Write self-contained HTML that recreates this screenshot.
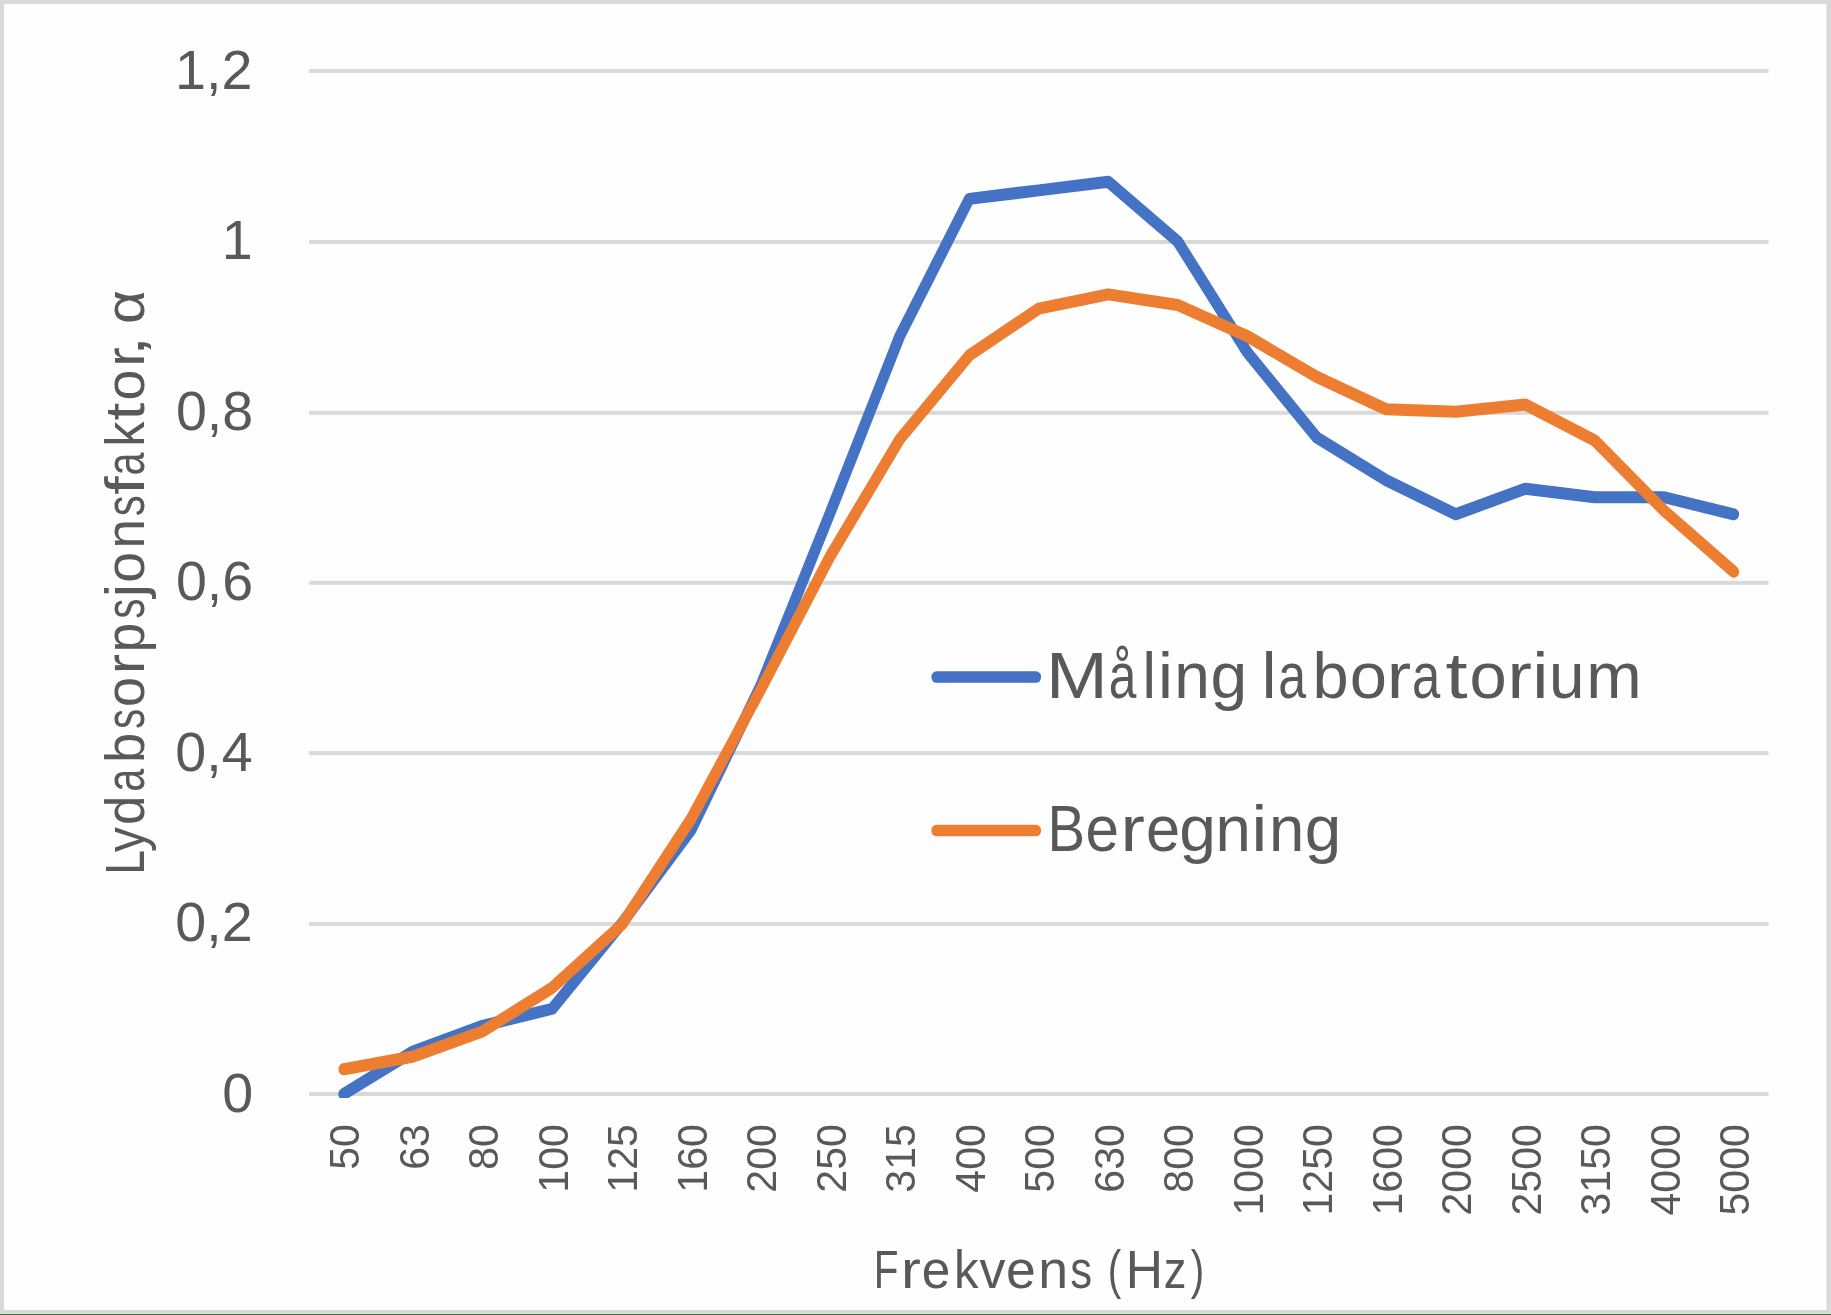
<!DOCTYPE html>
<html><head><meta charset="utf-8"><title>Chart</title>
<style>
html,body{margin:0;padding:0;background:#fff;}
body{width:1831px;height:1315px;overflow:hidden;}
svg{display:block;will-change:transform;}
text{font-family:"Liberation Sans",sans-serif;fill:#595959;}
</style></head><body>
<svg width="1831" height="1315" viewBox="0 0 1831 1315">
<rect x="0" y="0" width="1831" height="1315" fill="#FEFEFE"/>
<!-- frame -->
<rect x="0" y="0" width="1831" height="4" fill="#D9D9D9"/>
<rect x="0" y="0" width="4" height="1315" fill="#D9D9D9"/>
<rect x="1826.5" y="0" width="4.5" height="1315" fill="#D9D9D9"/>
<rect x="0" y="1310" width="1831" height="3" fill="#D9D9D9"/>
<rect x="0" y="1313" width="1831" height="1" fill="#DEDDDE"/>
<rect x="0" y="1314" width="1831" height="1" fill="#3E6B3C"/>
<!-- gridlines -->
<rect x="309.0" y="1092.00" width="1459.5" height="4" fill="#D9D9D9"/>
<rect x="309.0" y="921.90" width="1459.5" height="4" fill="#D9D9D9"/>
<rect x="309.0" y="751.10" width="1459.5" height="4" fill="#D9D9D9"/>
<rect x="309.0" y="580.80" width="1459.5" height="4" fill="#D9D9D9"/>
<rect x="309.0" y="410.80" width="1459.5" height="4" fill="#D9D9D9"/>
<rect x="309.0" y="240.00" width="1459.5" height="4" fill="#D9D9D9"/>
<rect x="309.0" y="69.00" width="1459.5" height="4" fill="#D9D9D9"/>
<!-- y labels -->
<text x="253.20" y="1111.80" font-size="55.6" text-anchor="end">0</text>
<text x="252.60" y="940.90" font-size="55.6" text-anchor="end">0,2</text>
<text x="252.60" y="770.90" font-size="55.6" text-anchor="end">0,4</text>
<text x="253.20" y="599.90" font-size="55.6" text-anchor="end">0,6</text>
<text x="253.20" y="429.90" font-size="55.6" text-anchor="end">0,8</text>
<text x="252.70" y="259.00" font-size="55.6" text-anchor="end">1</text>
<text x="252.40" y="88.90" font-size="55.6" text-anchor="end">1,2</text>
<!-- x labels -->
<text transform="translate(359.25,1124.2) rotate(-90) scale(0.977,1)" font-size="42" text-anchor="end">50</text>
<text transform="translate(428.75,1124.2) rotate(-90) scale(0.977,1)" font-size="42" text-anchor="end">63</text>
<text transform="translate(498.25,1124.2) rotate(-90) scale(0.977,1)" font-size="42" text-anchor="end">80</text>
<text transform="translate(567.75,1124.2) rotate(-90) scale(0.977,1)" font-size="42" text-anchor="end">100</text>
<text transform="translate(637.25,1124.2) rotate(-90) scale(0.977,1)" font-size="42" text-anchor="end">125</text>
<text transform="translate(706.75,1124.2) rotate(-90) scale(0.977,1)" font-size="42" text-anchor="end">160</text>
<text transform="translate(776.25,1124.2) rotate(-90) scale(0.977,1)" font-size="42" text-anchor="end">200</text>
<text transform="translate(845.75,1124.2) rotate(-90) scale(0.977,1)" font-size="42" text-anchor="end">250</text>
<text transform="translate(915.25,1124.2) rotate(-90) scale(0.977,1)" font-size="42" text-anchor="end">315</text>
<text transform="translate(984.75,1124.2) rotate(-90) scale(0.977,1)" font-size="42" text-anchor="end">400</text>
<text transform="translate(1054.25,1124.2) rotate(-90) scale(0.977,1)" font-size="42" text-anchor="end">500</text>
<text transform="translate(1123.75,1124.2) rotate(-90) scale(0.977,1)" font-size="42" text-anchor="end">630</text>
<text transform="translate(1193.25,1124.2) rotate(-90) scale(0.977,1)" font-size="42" text-anchor="end">800</text>
<text transform="translate(1262.75,1124.2) rotate(-90) scale(0.977,1)" font-size="42" text-anchor="end">1000</text>
<text transform="translate(1332.25,1124.2) rotate(-90) scale(0.977,1)" font-size="42" text-anchor="end">1250</text>
<text transform="translate(1401.75,1124.2) rotate(-90) scale(0.977,1)" font-size="42" text-anchor="end">1600</text>
<text transform="translate(1471.25,1124.2) rotate(-90) scale(0.977,1)" font-size="42" text-anchor="end">2000</text>
<text transform="translate(1540.75,1124.2) rotate(-90) scale(0.977,1)" font-size="42" text-anchor="end">2500</text>
<text transform="translate(1610.25,1124.2) rotate(-90) scale(0.977,1)" font-size="42" text-anchor="end">3150</text>
<text transform="translate(1679.75,1124.2) rotate(-90) scale(0.977,1)" font-size="42" text-anchor="end">4000</text>
<text transform="translate(1749.25,1124.2) rotate(-90) scale(0.977,1)" font-size="42" text-anchor="end">5000</text>
<!-- axis titles -->
<text transform="translate(144,874.58) rotate(-90) scale(0.805,1)" font-size="54.8">L</text>
<text transform="translate(144,852.22) rotate(-90) scale(0.920,1)" font-size="54.8">y</text>
<text transform="translate(144,825.12) rotate(-90) scale(0.966,1)" font-size="54.8">d</text>
<text transform="translate(144,791.76) rotate(-90) scale(0.757,1)" font-size="54.8">a</text>
<text transform="translate(144,763.10) rotate(-90) scale(0.990,1)" font-size="54.8">b</text>
<text transform="translate(144,729.02) rotate(-90) scale(0.737,1)" font-size="54.8">s</text>
<text transform="translate(144,707.08) rotate(-90) scale(0.989,1)" font-size="54.8">o</text>
<text transform="translate(144,674.14) rotate(-90) scale(1.109,1)" font-size="54.8">r</text>
<text transform="translate(144,652.21) rotate(-90) scale(0.966,1)" font-size="54.8">p</text>
<text transform="translate(144,618.82) rotate(-90) scale(0.737,1)" font-size="54.8">s</text>
<text transform="translate(144,597.39) rotate(-90) scale(1.130,1)" font-size="54.8">j</text>
<text transform="translate(144,582.73) rotate(-90) scale(1.013,1)" font-size="54.8">o</text>
<text transform="translate(144,548.52) rotate(-90) scale(0.967,1)" font-size="54.8">n</text>
<text transform="translate(144,516.36) rotate(-90) scale(0.762,1)" font-size="54.8">s</text>
<text transform="translate(144,494.84) rotate(-90) scale(1.211,1)" font-size="54.8">f</text>
<text transform="translate(144,475.56) rotate(-90) scale(0.757,1)" font-size="54.8">a</text>
<text transform="translate(144,446.70) rotate(-90) scale(0.921,1)" font-size="54.8">k</text>
<text transform="translate(144,420.47) rotate(-90) scale(1.172,1)" font-size="54.8">t</text>
<text transform="translate(144,400.53) rotate(-90) scale(1.013,1)" font-size="54.8">o</text>
<text transform="translate(144,366.78) rotate(-90) scale(1.066,1)" font-size="54.8">r</text>
<text transform="translate(144,356.13) rotate(-90) scale(1.350,1)" font-size="54.8">,</text>
<text transform="translate(144,323.97) rotate(-90) scale(1.072,1)" font-size="54.8">α</text>
<text transform="translate(873.78,1288.1) scale(0.750,1)" font-size="54">F</text>
<text transform="translate(900.94,1288.1) scale(1.104,1)" font-size="54">r</text>
<text transform="translate(921.72,1288.1) scale(0.951,1)" font-size="54">e</text>
<text transform="translate(953.99,1288.1) scale(0.909,1)" font-size="54">k</text>
<text transform="translate(979.42,1288.1) scale(0.961,1)" font-size="54">v</text>
<text transform="translate(1006.03,1288.1) scale(0.991,1)" font-size="54">e</text>
<text transform="translate(1038.24,1288.1) scale(0.994,1)" font-size="54">n</text>
<text transform="translate(1070.28,1288.1) scale(0.811,1)" font-size="54">s</text>
<text transform="translate(1107.72,1288.1) scale(0.750,1)" font-size="54">(</text>
<text transform="translate(1125.77,1288.1) scale(0.955,1)" font-size="54">H</text>
<text transform="translate(1163.76,1288.1) scale(0.841,1)" font-size="54">z</text>
<text transform="translate(1190.79,1288.1) scale(0.750,1)" font-size="54">)</text>
<!-- series -->
<clipPath id="plotclip"><rect x="300" y="60" width="1480" height="1038"/></clipPath>
<g clip-path="url(#plotclip)"><g transform="scale(1,1.117)">
<polyline points="343.75,979.409 413.25,941.249 482.75,918.353 552.25,903.089 621.75,826.768 691.25,742.816 760.75,613.834 830.25,458.903 899.75,300.920 969.25,178.044 1038.75,170.412 1108.25,162.780 1177.75,216.204 1247.25,315.421 1316.75,391.741 1386.25,429.902 1455.75,460.430 1525.25,437.534 1594.75,445.166 1664.25,445.166 1733.75,460.430" fill="none" stroke="#4472C4" stroke-width="10.75" stroke-linecap="round" stroke-linejoin="round"/>
<polyline points="343.75,957.276 413.25,945.828 482.75,923.314 552.25,884.237 621.75,827.837 691.25,732.894 760.75,617.268 830.25,497.827 899.75,393.268 969.25,318.245 1038.75,276.268 1108.25,263.523 1177.75,273.063 1247.25,300.920 1316.75,337.401 1386.25,366.479 1455.75,368.616 1525.25,362.129 1594.75,394.412 1664.25,457.377 1733.75,511.946" fill="none" stroke="#ED7D31" stroke-width="10.75" stroke-linecap="round" stroke-linejoin="round"/>
</g></g>
<!-- legend -->
<line transform="scale(1,1.117)" x1="936.5" y1="606.177" x2="1036" y2="606.177" stroke="#4472C4" stroke-width="10.3" stroke-linecap="round"/>
<text transform="translate(1045.92,697.6) scale(1.150,1)" font-size="64.5">M</text>
<text transform="translate(1108.69,697.6) scale(0.770,1)" font-size="64.5">å</text>
<text transform="translate(1142.54,697.6) scale(0.935,1)" font-size="64.5">l</text>
<text transform="translate(1157.91,697.6) scale(1.041,1)" font-size="64.5">i</text>
<text transform="translate(1174.35,697.6) scale(0.993,1)" font-size="64.5">n</text>
<text transform="translate(1210.43,697.6) scale(1.024,1)" font-size="64.5">g</text>
<text transform="translate(1261.75,697.6) scale(1.023,1)" font-size="64.5">l</text>
<text transform="translate(1278.37,697.6) scale(0.776,1)" font-size="64.5">a</text>
<text transform="translate(1312.41,697.6) scale(1.007,1)" font-size="64.5">b</text>
<text transform="translate(1349.69,697.6) scale(1.038,1)" font-size="64.5">o</text>
<text transform="translate(1386.74,697.6) scale(1.135,1)" font-size="64.5">r</text>
<text transform="translate(1411.94,697.6) scale(0.788,1)" font-size="64.5">a</text>
<text transform="translate(1445.40,697.6) scale(1.232,1)" font-size="64.5">t</text>
<text transform="translate(1469.59,697.6) scale(1.038,1)" font-size="64.5">o</text>
<text transform="translate(1507.54,697.6) scale(1.135,1)" font-size="64.5">r</text>
<text transform="translate(1532.23,697.6) scale(1.129,1)" font-size="64.5">i</text>
<text transform="translate(1549.06,697.6) scale(0.989,1)" font-size="64.5">u</text>
<text transform="translate(1586.17,697.6) scale(1.033,1)" font-size="64.5">m</text>
<line transform="scale(1,1.117)" x1="936.5" y1="743.599" x2="1036" y2="743.599" stroke="#ED7D31" stroke-width="10.3" stroke-linecap="round"/>
<text transform="translate(1047.38,850.5) scale(0.874,1)" font-size="64.5">B</text>
<text transform="translate(1085.44,850.5) scale(0.935,1)" font-size="64.5">e</text>
<text transform="translate(1120.44,850.5) scale(1.135,1)" font-size="64.5">r</text>
<text transform="translate(1145.99,850.5) scale(0.952,1)" font-size="64.5">e</text>
<text transform="translate(1179.13,850.5) scale(1.024,1)" font-size="64.5">g</text>
<text transform="translate(1215.38,850.5) scale(0.985,1)" font-size="64.5">n</text>
<text transform="translate(1251.48,850.5) scale(1.094,1)" font-size="64.5">i</text>
<text transform="translate(1268.98,850.5) scale(0.985,1)" font-size="64.5">n</text>
<text transform="translate(1304.65,850.5) scale(1.017,1)" font-size="64.5">g</text>
</svg>
</body></html>
